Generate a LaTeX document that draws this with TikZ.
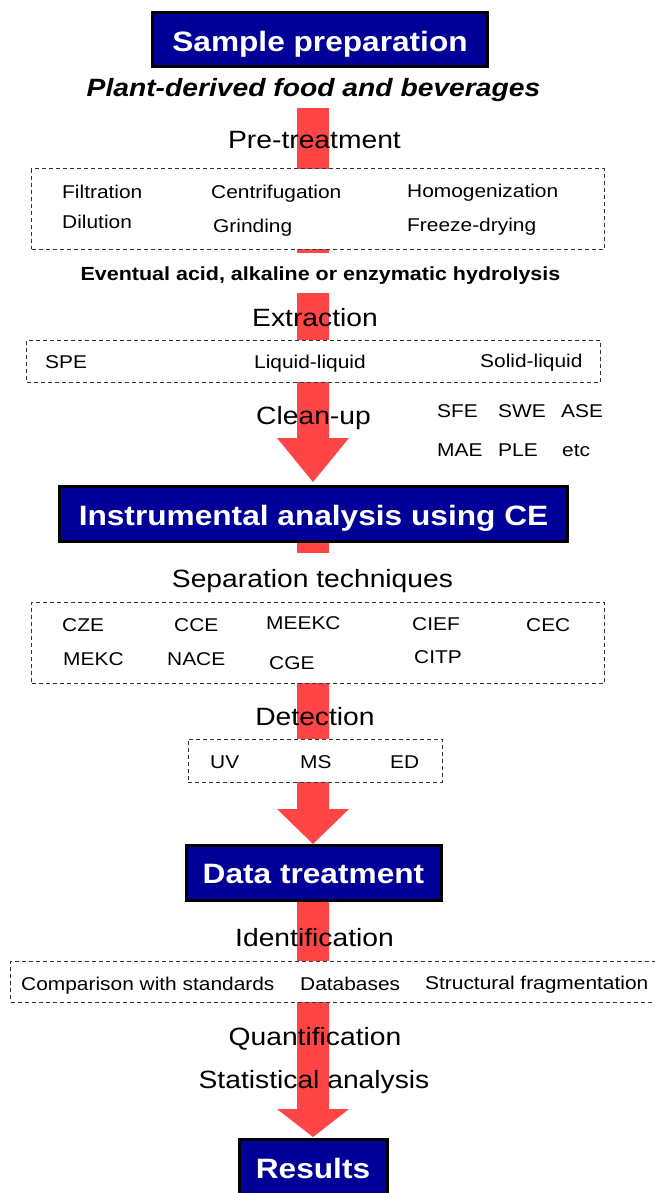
\documentclass[tikz,border=0pt]{standalone}
\usepackage{fontspec}
\usetikzlibrary{calc}
\setmainfont{Liberation Sans}[FakeStretch=1.13]
\definecolor{navy}{RGB}{0,0,153}
\definecolor{arrowred}{RGB}{255,69,69}
\begin{document}
\begin{tikzpicture}[x=1pt,y=-1pt,
  bluebox/.style={draw=black, line width=3pt, fill=navy, text=white,
    font=\fontsize{28}{30}\selectfont\bfseries, inner sep=0pt, text depth=0pt, anchor=base},
  dbox/.style={draw=black!80, dash pattern=on 4pt off 3pt, line width=1pt, fill=white, inner sep=0pt},
  heading/.style={font=\fontsize{25}{30}\selectfont, inner sep=0pt, anchor=base},
  item/.style={font=\fontsize{18.5}{22}\selectfont, inner sep=0pt, anchor=base west},
  redarrow/.style={fill=arrowred, draw=none}]
\useasboundingbox (0,0) rectangle (655,1193);

% named anchor points of the block arrows
\coordinate (a1top) at (313,108);
\coordinate (a1mid) at (313,253);
\coordinate (a1restart) at (313,293);
\coordinate (a1head) at (313,438);
\coordinate (a1tip) at (313,482);
\coordinate (a2top) at (313,541);
\coordinate (a2mid) at (313,553);
\coordinate (a2restart) at (313,683);
\coordinate (a2head) at (313,809);
\coordinate (a2tip) at (313,844);
\coordinate (a3top) at (313,900);
\coordinate (a3head) at (313,1109);
\coordinate (a3tip) at (313,1137);

% red block arrows (drawn first, behind boxes and text)
\fill[redarrow] ($(a1top)+(-16,0)$) rectangle ($(a1mid)+(16,0)$);
\fill[redarrow] ($(a1restart)+(-16,0)$) -- ($(a1head)+(-16,0)$) -- ($(a1head)+(-36,0)$) -- (a1tip)
  -- ($(a1head)+(36,0)$) -- ($(a1head)+(16,0)$) -- ($(a1restart)+(16,0)$) -- cycle;
\fill[redarrow] ($(a2top)+(-16,0)$) rectangle ($(a2mid)+(16,0)$);
\fill[redarrow] ($(a2restart)+(-16,0)$) -- ($(a2head)+(-16,0)$) -- ($(a2head)+(-36,0)$) -- (a2tip)
  -- ($(a2head)+(36,0)$) -- ($(a2head)+(16,0)$) -- ($(a2restart)+(16,0)$) -- cycle;
\fill[redarrow] ($(a3top)+(-16,0)$) -- ($(a3head)+(-16,0)$) -- ($(a3head)+(-36,0)$) -- (a3tip)
  -- ($(a3head)+(36,0)$) -- ($(a3head)+(16,0)$) -- ($(a3top)+(16,0)$) -- cycle;

% title boxes
\node[bluebox, minimum width=335, minimum height=54, text height=24.4] (sample) at (320,51.7) {Sample preparation};
\node[bluebox, minimum width=508, minimum height=55, text height=22] (instr) at (313.5,525) {Instrumental analysis using CE};
\node[bluebox, minimum width=255, minimum height=55, text height=20.6] (data) at (313.5,883.3) {Data treatment};
\node[bluebox, minimum width=148, minimum height=80, text height=0pt, text depth=2.4pt] (results) at (313,1178.3) {Results};

% dashed boxes
\node[dbox, minimum width=572.5, minimum height=80] (preBox) at (317.75,209) {};
\node[dbox, minimum width=573.5, minimum height=42] (extBox) at (313.25,361) {};
\node[dbox, minimum width=572.5, minimum height=81] (sepBox) at (317.75,642.5) {};
\node[dbox, minimum width=254, minimum height=43] (detBox) at (315,760.5) {};
\node[dbox, minimum width=652, minimum height=41] (idBox) at (336.5,981.5) {};

% texts
\node[heading, font=\fontsize{25}{30}\selectfont\bfseries\itshape] (plant) at (313.5,96.7) {Plant-derived food and beverages};
\node[heading] (pretreat) at (314.5,148.3) {Pre-treatment};
\node[item] (filt) at (62,198) {Filtration};
\node[item] (dil) at (62,228) {Dilution};
\node[item] (centr) at (211,199) {Centrifugation};
\node[item] (grind) at (213,232) {Grinding};
\node[item] (homog) at (407,197) {Homogenization};
\node[item] (freeze) at (407,231) {Freeze-drying};

\node[heading, font=\fontsize{19}{22}\selectfont\bfseries] (hydro) at (320.5,280.7) {Eventual acid, alkaline or enzymatic hydrolysis};

\node[heading] (extr) at (315,326) {Extraction};
\node[item] (spe) at (45,368) {SPE};
\node[item] (ll) at (254,368) {Liquid-liquid};
\node[item] (sl) at (480,367) {Solid-liquid};

\node[heading] (clean) at (313.5,424) {Clean-up};
\node[item] (sfe) at (437,417) {SFE};
\node[item] (swe) at (498,417) {SWE};
\node[item] (ase) at (561,417) {ASE};
\node[item] (mae) at (437,456) {MAE};
\node[item] (ple) at (498,456) {PLE};
\node[item] (etc) at (562,456) {etc};

\node[heading] (sept) at (312.5,587.3) {Separation techniques};
\node[item] (cze) at (62,631) {CZE};
\node[item] (cce) at (174,631) {CCE};
\node[item] (meekc) at (266,629.3) {MEEKC};
\node[item] (cief) at (412,630.7) {CIEF};
\node[item] (cec) at (526,631) {CEC};
\node[item] (mekc) at (63,665.7) {MEKC};
\node[item] (nace) at (167,665.7) {NACE};
\node[item] (cge) at (269,669) {CGE};
\node[item] (citp) at (414,663.3) {CITP};

\node[heading] (detect) at (315,725) {Detection};
\node[item] (uv) at (210,768.5) {UV};
\node[item] (ms) at (300,768.5) {MS};
\node[item] (ed) at (390,768.5) {ED};

\node[heading] (ident) at (314.5,946.7) {Identification};
\node[item] (comp) at (21,990) {Comparison with standards};
\node[item] (dbs) at (300,990) {Databases};
\node[item] (struct) at (425,989.3) {Structural fragmentation};

\node[heading] (quant) at (315,1045) {Quantification};
\node[heading] (stat) at (314,1088.3) {Statistical analysis};
\end{tikzpicture}
\end{document}
